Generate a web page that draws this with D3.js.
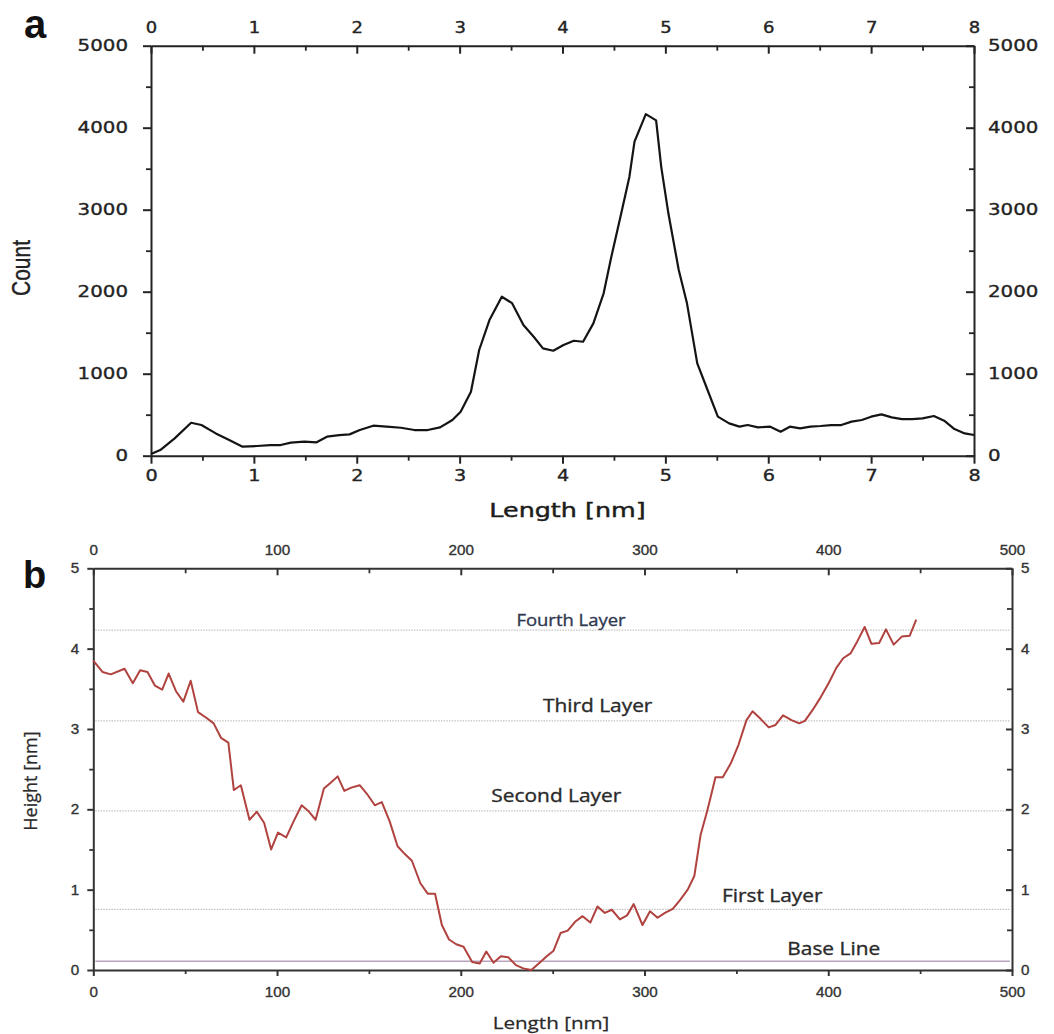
<!DOCTYPE html>
<html>
<head>
<meta charset="utf-8">
<script src="https://cdn.jsdelivr.net/npm/d3@7"></script>
<style>
  body { margin: 0; background: #fff; }
  svg { display: block; }
</style>
</head>
<body>
<svg id="fig" width="1054" height="1034"></svg>
<script>
// ---------- Panel a: length distribution ----------
const aLength = [0, 0.09, 0.23, 0.39, 0.49, 0.63, 0.76, 0.89, 1.03, 1.16, 1.26, 1.36, 1.49, 1.61, 1.71,
  1.83, 1.93, 2.03, 2.16, 2.29, 2.43, 2.56, 2.69, 2.81, 2.93, 3.01, 3.11, 3.19, 3.29, 3.41, 3.51,
  3.62, 3.72, 3.81, 3.91, 4.01, 4.11, 4.20, 4.30, 4.40, 4.47, 4.57, 4.65, 4.70, 4.81, 4.91, 4.96,
  5.03, 5.13, 5.21, 5.31, 5.41, 5.51, 5.62, 5.72, 5.80, 5.90, 6.02, 6.12, 6.21, 6.31, 6.41, 6.51,
  6.61, 6.71, 6.81, 6.91, 7.00, 7.10, 7.20, 7.30, 7.40, 7.50, 7.61, 7.71, 7.81, 7.91, 8.0];
const aCount = [20, 69, 211, 402, 374, 272, 191, 110, 118, 130, 130, 159, 171, 163, 232,
  252, 260, 313, 366, 354, 341, 313, 313, 346, 435, 537, 780, 1289, 1654, 1939, 1860,
  1593, 1451, 1309, 1280, 1350, 1402, 1390, 1614, 1980, 2400, 2950, 3400, 3830, 4165, 4090, 3520,
  2950, 2264, 1858, 1126, 801, 476, 394, 354, 374, 346, 354, 293, 354, 333, 354, 362,
  374, 374, 415, 435, 476, 504, 467, 447, 447, 455, 484, 427, 325, 272, 252];
const aXTicks = [0, 1, 2, 3, 4, 5, 6, 7, 8];
const aXMinor = [0.5, 1.5, 2.5, 3.5, 4.5, 5.5, 6.5, 7.5];
const aYTicks = [0, 1000, 2000, 3000, 4000, 5000];
const aYMinor = [500, 1500, 2500, 3500, 4500];

// ---------- Panel b: height profile ----------
const bLength = [0, 5, 9.5, 17, 21.5, 25.5, 29.5, 33.5, 37.5, 41, 45, 49, 53, 57, 61.5, 65.5, 69.5,
  73.5, 76.5, 80.3, 85, 89, 93, 96.8, 100.5, 105, 109, 113.4, 117, 121, 125.5, 129.2, 133, 136.6,
  140.4, 145, 149, 153.2, 157, 161.3, 165.6, 169.7, 173.4, 178, 182, 186, 189.7, 193.6, 197.5,
  201.5, 206.2, 210.3, 213.9, 217.8, 221.8, 225.8, 230, 234, 238.4, 242.9, 246.8, 250.5, 254.3,
  258.2, 262.2, 266.3, 270.5, 274.4, 278.4, 282.2, 286.6, 290.5, 294.1, 298.9, 303, 307.1, 311.1,
  315.4, 319.3, 323.5, 327.1, 330.5, 334, 336.5, 338.6, 342.6, 346.9, 351.1, 355.5, 358.8, 363.4,
  367.6, 371.3, 375.4, 380, 384.2, 387.3, 391.6, 396, 400.2, 404.4, 408.1, 412.1, 415.8, 419.8,
  423.5, 427.7, 431.4, 435.6, 440, 444.3, 447.9];
const bHeight = [3.85, 3.71, 3.68, 3.75, 3.57, 3.73, 3.71, 3.54, 3.49, 3.69, 3.47, 3.34, 3.60, 3.21, 3.14, 3.07, 2.89,
  2.83, 2.24, 2.30, 1.87, 1.97, 1.83, 1.50, 1.71, 1.65, 1.85, 2.05, 1.98, 1.87, 2.26, 2.33, 2.41, 2.23,
  2.27, 2.30, 2.19, 2.05, 2.09, 1.85, 1.54, 1.44, 1.36, 1.08, 0.95, 0.95, 0.56, 0.38, 0.32,
  0.29, 0.10, 0.08, 0.23, 0.09, 0.17, 0.16, 0.06, 0.02, 0.0, 0.09, 0.17, 0.24, 0.46,
  0.49, 0.60, 0.67, 0.59, 0.79, 0.71, 0.75, 0.63, 0.68, 0.82, 0.56, 0.73, 0.65, 0.71,
  0.76, 0.87, 1.00, 1.17, 1.68, 1.97, 2.20, 2.40, 2.40, 2.57, 2.80, 3.11, 3.22, 3.12,
  3.02, 3.05, 3.17, 3.11, 3.07, 3.10, 3.24, 3.40, 3.57, 3.76, 3.88, 3.94, 4.09, 4.27,
  4.06, 4.07, 4.24, 4.05, 4.15, 4.16, 4.36];
const bXTicks = [0, 100, 200, 300, 400, 500];
const bXMinor = [50, 150, 250, 350, 450];
const bYTicks = [0, 1, 2, 3, 4, 5];
const bYMinor = [0.5, 1.5, 2.5, 3.5, 4.5];
const layerNames = ["Fourth Layer", "Third Layer", "Second Layer", "First Layer", "Base Line"];
const layerHeights = [4.23, 3.10, 1.98, 0.755, 0.108];

const svg = d3.select("#fig");

// Stretch text horizontally about its own anchor point
function widen(sel, sx) {
  sel.each(function () {
    const t = d3.select(this);
    const x = +t.attr("x") || 0, y = +t.attr("y") || 0;
    t.attr("x", 0).attr("y", 0).attr("transform", `translate(${x},${y}) scale(${sx},1)`);
  });
}

function addText(parent, str, x, y, opt) {
  const o = Object.assign({ size: 16, family: "Liberation Sans", weight: "normal", anchor: "middle",
    fill: "#222", sx: 1, rotate: 0, heavy: 0 }, opt);
  const t = parent.append("text")
    .attr("transform", `translate(${x},${y}) scale(${o.sx},1) rotate(${o.rotate})`)
    .attr("text-anchor", o.anchor)
    .attr("font-family", o.family)
    .attr("font-size", o.size)
    .attr("font-weight", o.weight)
    .attr("fill", o.fill)
    .text(str);
  if (o.heavy) t.attr("stroke", o.fill).attr("stroke-width", o.heavy);
  return t;
}

function styleAxis(g, color, width, font, size, sx, heavy) {
  g.attr("font-family", font).attr("font-size", size).attr("color", color);
  g.selectAll(".domain").attr("stroke-width", width);
  g.selectAll(".tick line").attr("stroke-width", width);
  g.selectAll("text").attr("fill", color).attr("stroke", color).attr("stroke-width", heavy);
  widen(g.selectAll("text"), sx);
}

function minorAxis(g, axis, width) {
  g.call(axis);
  g.select(".domain").remove();
  g.selectAll(".tick line").attr("stroke-width", width);
}

// ================= Panel a =================
const xA = d3.scaleLinear().domain([0, 8]).range([151, 974]);
const yA = d3.scaleLinear().domain([0, 5000]).range([455.7, 45.7]);
const colA = "#232323";
const fontA = "DejaVu Sans";

const gA = svg.append("g");

// minor ticks
minorAxis(gA.append("g").attr("color", colA).attr("transform", `translate(0,${yA(0)})`),
  d3.axisBottom(xA).tickValues(aXMinor).tickSize(5).tickFormat(""), 1.8);
minorAxis(gA.append("g").attr("color", colA).attr("transform", `translate(0,${yA(5000)})`),
  d3.axisTop(xA).tickValues(aXMinor).tickSize(-5).tickFormat(""), 1.8);
minorAxis(gA.append("g").attr("color", colA).attr("transform", `translate(${xA(0)},0)`),
  d3.axisLeft(yA).tickValues(aYMinor).tickSize(5).tickFormat(""), 1.8);
minorAxis(gA.append("g").attr("color", colA).attr("transform", `translate(${xA(8)},0)`),
  d3.axisRight(yA).tickValues(aYMinor).tickSize(-5).tickFormat(""), 1.8);

// major axes
gA.append("g").attr("transform", `translate(0,${yA(0)})`)
  .call(d3.axisBottom(xA).tickValues(aXTicks).tickSizeInner(8).tickSizeOuter(0).tickPadding(6).tickFormat(d3.format("d")))
  .call(g => styleAxis(g, colA, 2, fontA, 16, 1.2, 0.35));
gA.append("g").attr("transform", `translate(0,${yA(5000)})`)
  .call(d3.axisTop(xA).tickValues(aXTicks).tickSizeInner(-8).tickSizeOuter(0).tickPadding(12.5).tickFormat(d3.format("d")))
  .call(g => styleAxis(g, colA, 2, fontA, 15, 1.2, 0.35));
gA.append("g").attr("transform", `translate(${xA(0)},0)`)
  .call(d3.axisLeft(yA).tickValues(aYTicks).tickSizeInner(8).tickSizeOuter(0).tickPadding(15).tickFormat(d3.format("d")))
  .call(g => styleAxis(g, colA, 2, fontA, 16.5, 1.2, 0.35));
gA.append("g").attr("transform", `translate(${xA(8)},0)`)
  .call(d3.axisRight(yA).tickValues(aYTicks).tickSizeInner(-8).tickSizeOuter(0).tickPadding(14).tickFormat(d3.format("d")))
  .call(g => styleAxis(g, colA, 2, fontA, 16.5, 1.2, 0.35));

// distribution curve
gA.append("path")
  .datum(aLength.map((d, i) => [d, aCount[i]]))
  .attr("fill", "none")
  .attr("stroke", "#141414")
  .attr("stroke-width", 2.2)
  .attr("stroke-linejoin", "round")
  .attr("d", d3.line().x(d => xA(d[0])).y(d => yA(d[1])));

addText(gA, "Length [nm]", (xA(0) + xA(8)) / 2 + 5, 516.5, { family: fontA, size: 20, sx: 1.27, fill: "#1c1c1c", heavy: 0.45 });
addText(gA, "Count", 0, 0, { family: "Liberation Sans", size: 21, fill: "#222", heavy: 0.3 })
  .attr("transform", `translate(30,268) scale(1.2,1) rotate(-90)`);
addText(gA, "a", 24, 38, { family: "Liberation Sans", size: 40, weight: "bold", anchor: "start", fill: "#111" });

// ================= Panel b =================
const xB = d3.scaleLinear().domain([0, 500]).range([93.3, 1012]);
const yB = d3.scaleLinear().domain([0, 5]).range([970, 568.3]);
const colB = "#333";
const fontB = "Liberation Sans";

const gB = svg.append("g");

// layer reference lines
const layerStyle = {
  "Fourth Layer": { x: 260, dy: 4, size: 16.5, sx: 1.12, fill: "#2f3850" },
  "Third Layer": { x: 274.5, dy: 8.5, size: 18, sx: 1.16, fill: "#2a2a2a" },
  "Second Layer": { x: 252, dy: 8.5, size: 18, sx: 1.16, fill: "#2a2a2a" },
  "First Layer": { x: 369.5, dy: 7.5, size: 18, sx: 1.16, fill: "#2a2a2a" },
  "Base Line": { x: 403, dy: 6.5, size: 18, sx: 1.16, fill: "#2a2a2a" }
};
layerNames.forEach((name, i) => {
  const h = layerHeights[i];
  const isBase = name === "Base Line";
  gB.append("line")
    .attr("x1", xB(0) + 2).attr("x2", xB(500) - 2)
    .attr("y1", yB(h)).attr("y2", yB(h))
    .attr("stroke", isBase ? "#b9a3bd" : "#c2c2c2")
    .attr("stroke-width", isBase ? 1.6 : 1.3)
    .attr("stroke-dasharray", isBase ? null : "1.5,1.2");
  const s = layerStyle[name];
  addText(gB, name, xB(s.x), yB(h) - s.dy, { family: "Open Sans", size: s.size, sx: s.sx, fill: s.fill, heavy: 0.35 });
});

// minor ticks
minorAxis(gB.append("g").attr("color", colB).attr("transform", `translate(0,${yB(0)})`),
  d3.axisBottom(xB).tickValues(bXMinor).tickSize(4).tickFormat(""), 1.8);
minorAxis(gB.append("g").attr("color", colB).attr("transform", `translate(0,${yB(5)})`),
  d3.axisTop(xB).tickValues(bXMinor).tickSize(-5).tickFormat(""), 1.8);
minorAxis(gB.append("g").attr("color", colB).attr("transform", `translate(${xB(0)},0)`),
  d3.axisLeft(yB).tickValues(bYMinor).tickSize(4).tickFormat(""), 1.8);
minorAxis(gB.append("g").attr("color", colB).attr("transform", `translate(${xB(500)},0)`),
  d3.axisRight(yB).tickValues(bYMinor).tickSize(-5).tickFormat(""), 1.8);

// major axes
gB.append("g").attr("transform", `translate(0,${yB(0)})`)
  .call(d3.axisBottom(xB).tickValues(bXTicks).tickSizeInner(6).tickSizeOuter(0).tickPadding(11).tickFormat(d3.format("d")))
  .call(g => styleAxis(g, colB, 2, fontB, 14.5, 1.05, 0.35));
gB.append("g").attr("transform", `translate(0,${yB(5)})`)
  .call(d3.axisTop(xB).tickValues(bXTicks).tickSizeInner(-7).tickSizeOuter(0).tickPadding(13).tickFormat(d3.format("d")))
  .call(g => styleAxis(g, colB, 2, fontB, 14.5, 1.05, 0.35));
gB.append("g").attr("transform", `translate(${xB(0)},0)`)
  .call(d3.axisLeft(yB).tickValues(bYTicks).tickSizeInner(6).tickSizeOuter(0).tickPadding(8).tickFormat(d3.format("d")))
  .call(g => styleAxis(g, colB, 2, fontB, 14.5, 1.05, 0.35));
gB.append("g").attr("transform", `translate(${xB(500)},0)`)
  .call(d3.axisRight(yB).tickValues(bYTicks).tickSizeInner(-6).tickSizeOuter(0).tickPadding(9).tickFormat(d3.format("d")))
  .call(g => styleAxis(g, colB, 2, fontB, 14.5, 1.05, 0.35));

// height profile
gB.append("path")
  .datum(bLength.map((d, i) => [d, bHeight[i]]))
  .attr("fill", "none")
  .attr("stroke", "#b0423f")
  .attr("stroke-width", 2)
  .attr("stroke-linejoin", "round")
  .attr("d", d3.line().x(d => xB(d[0])).y(d => yB(d[1])));

addText(gB, "Length [nm]", 551, 1029, { family: "Open Sans", size: 16.5, sx: 1.25, fill: "#2a2a2a", heavy: 0.25 });
addText(gB, "Height [nm]", 0, 0, { family: "Open Sans", size: 18, fill: "#2a2a2a", heavy: 0.25 })
  .attr("transform", `translate(37,781) rotate(-90)`);
addText(gB, "b", 23, 588, { family: "Liberation Sans", size: 38, weight: "bold", anchor: "start", fill: "#111" });
</script>
</body>
</html>
